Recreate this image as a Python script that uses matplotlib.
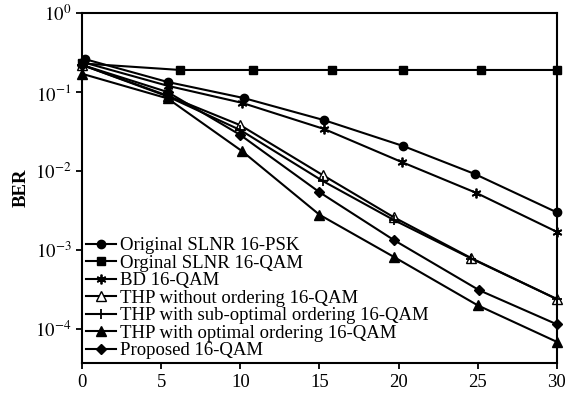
import numpy as np
import matplotlib
matplotlib.use("Agg")
import matplotlib.pyplot as plt

plt.rcParams['font.family'] = ['Liberation Serif', 'DejaVu Serif']
plt.rcParams['mathtext.fontset'] = 'stix'

# values (x = SNR, y = BER)
x_psk = [0.2, 5.4, 10.2, 15.3, 20.3, 24.8, 30]
ber_psk = [0.26, 0.134, 0.084, 0.044, 0.0207, 0.0092, 0.0030]

x_slnr = [0, 6.2, 10.8, 15.8, 20.3, 25.2, 30]
ber_slnr = [0.23, 0.19, 0.19, 0.19, 0.19, 0.19, 0.19]

x_bd = [0, 5.4, 10.1, 15.3, 20.2, 24.9, 30]
ber_bd = [0.24, 0.12, 0.073, 0.034, 0.013, 0.0053, 0.0017]

x_thp = [0, 5.4, 10.0, 15.2, 19.7, 24.6, 30]
ber_thp = [0.22, 0.09, 0.038, 0.0089, 0.0026, 0.00079, 0.00024]

x_sub = [0, 5.4, 10.0, 15.2, 19.7, 24.6, 30]
ber_sub = [0.22, 0.088, 0.033, 0.0075, 0.0024, 0.00078, 0.00024]

x_opt = [0, 5.4, 10.1, 15.0, 19.7, 25.0, 30]
ber_opt = [0.17, 0.083, 0.0179, 0.0028, 0.00082, 0.0002, 0.000069]

x_prop = [0, 5.4, 10.0, 15.0, 19.7, 25.1, 30]
ber_prop = [0.22, 0.10, 0.0286, 0.0054, 0.00134, 0.00031, 0.000115]

labels = ['Original SLNR 16-PSK', 'Orginal SLNR 16-QAM', 'BD 16-QAM',
          'THP without ordering 16-QAM', 'THP with sub-optimal ordering 16-QAM',
          'THP with optimal ordering 16-QAM', 'Proposed 16-QAM']

fig = plt.figure(figsize=(5.7, 3.93), dpi=100)
ax = fig.add_axes([0.144, 0.076, 0.833, 0.891])

kw = dict(color='k', lw=1.5, clip_on=False)
ax.semilogy(x_psk, ber_psk, marker='o', ms=6, label=labels[0], **kw)
ax.semilogy(x_slnr, ber_slnr, marker='s', ms=6, label=labels[1], **kw)
ax.semilogy(x_bd, ber_bd, marker=(6, 2, 0), ms=7, mew=1.3, label=labels[2], **kw)
ax.semilogy(x_thp, ber_thp, marker='^', ms=7, mfc='white', label=labels[3], **kw)
ax.semilogy(x_sub, ber_sub, marker='+', ms=7, mew=1.3, label=labels[4], **kw)
ax.semilogy(x_opt, ber_opt, marker='^', ms=7, label=labels[5], **kw)
ax.semilogy(x_prop, ber_prop, marker='D', ms=5, label=labels[6], **kw)

ax.set_xlim(0, 30)
ax.set_ylim(10 ** -4.43, 1)
ax.set_xticks([0, 5, 10, 15, 20, 25, 30])
ax.set_yticks([1, 1e-1, 1e-2, 1e-3, 1e-4])
ax.set_yticklabels([r'$10^{0}$', r'$10^{-1}$', r'$10^{-2}$', r'$10^{-3}$', r'$10^{-4}$'])
ax.minorticks_off()
ax.tick_params(direction='out', length=4, width=1.3, labelsize=13.5)
for s in ax.spines.values():
    s.set_linewidth(1.5)
ax.set_ylabel('BER', fontsize=13.5, fontweight='bold')

leg = ax.legend(loc='lower left', frameon=False, fontsize=13.5, handlelength=1.6,
                handletextpad=0.2, labelspacing=0.02, borderaxespad=0.0,
                borderpad=0.2)

fig.savefig('out.png', dpi=100)
